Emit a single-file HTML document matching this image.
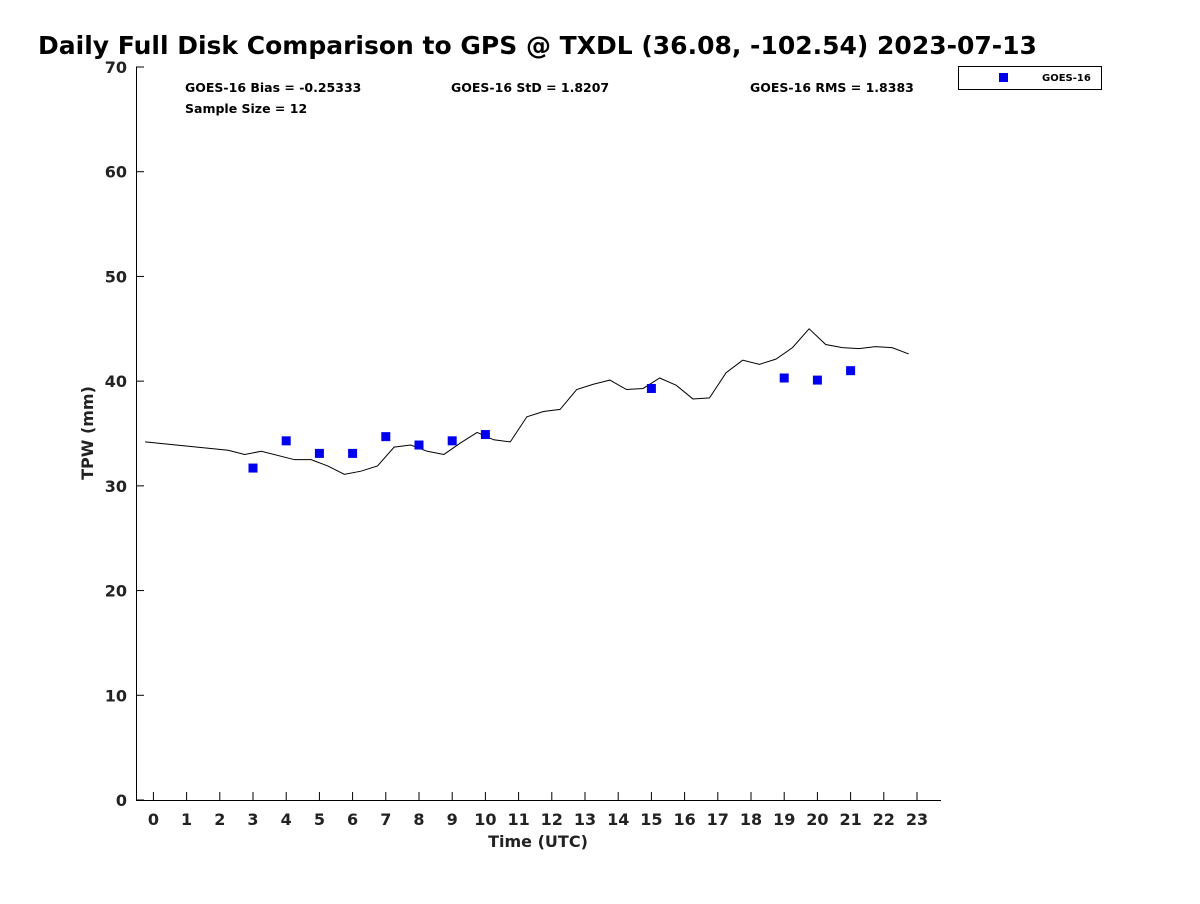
<!DOCTYPE html>
<html><head><meta charset="utf-8"><style>
body{margin:0;background:#fff;font-family:"DejaVu Sans","Liberation Sans",sans-serif;}
svg text{font-family:"DejaVu Sans","Liberation Sans",sans-serif;font-weight:bold;fill:#222;}
</style></head><body>
<svg id="chart" width="1200" height="900" xmlns="http://www.w3.org/2000/svg">
<text x="38" y="54" font-size="25" style="fill:#000">Daily Full Disk Comparison to GPS @ TXDL (36.08, -102.54) 2023-07-13</text>
<text x="185" y="92" font-size="12.5" style="fill:#000">GOES-16 Bias = -0.25333</text>
<text x="451" y="92" font-size="12.5" style="fill:#000">GOES-16 StD = 1.8207</text>
<text x="750" y="92" font-size="12.5" style="fill:#000">GOES-16 RMS = 1.8383</text>
<text x="185" y="113" font-size="12.5" style="fill:#000">Sample Size = 12</text>
<g>
<rect x="958.5" y="66.5" width="143" height="23" fill="#fff" stroke="#000"/>
<rect x="999" y="73" width="9" height="9" fill="#0000ee"/>
<text x="1042" y="81" font-size="10" style="fill:#000">GOES-16</text>
</g>
<g id="axes"></g>
<g id="marks"></g>
<text transform="translate(93,433) rotate(-90)" text-anchor="middle" font-size="16">TPW (mm)</text>
<text x="538" y="847" text-anchor="middle" font-size="16">Time (UTC)</text>
</svg>
<script>
const gpsTimes=[-0.25,2.25,2.75,3.25,4.25,4.75,5.25,5.75,6.25,6.75,7.25,7.75,8.25,8.75,9.25,9.75,10.25,10.75,11.25,11.75,12.25,12.75,13.25,13.75,14.25,14.75,15.25,15.75,16.25,16.75,17.25,17.75,18.25,18.75,19.25,19.75,20.25,20.75,21.25,21.75,22.25,22.75];
const gpsTpw=[34.2,33.4,33.0,33.3,32.5,32.5,31.9,31.1,31.4,31.9,33.7,33.9,33.3,33.0,34.1,35.1,34.4,34.2,36.6,37.1,37.3,39.2,39.7,40.1,39.2,39.3,40.3,39.6,38.3,38.4,40.8,42.0,41.6,42.1,43.2,45.0,43.5,43.2,43.1,43.3,43.2,42.6];
const goesHours=[3,4,5,6,7,8,9,10,15,19,20,21];
const goesTpw=[31.7,34.3,33.1,33.1,34.7,33.9,34.3,34.9,39.3,40.3,40.1,41.0];
const xTicks=[0,1,2,3,4,5,6,7,8,9,10,11,12,13,14,15,16,17,18,19,20,21,22,23];
const yTicks=[0,10,20,30,40,50,60,70];
const NS="http://www.w3.org/2000/svg";
const X=h=>153.4+33.2*h, Y=v=>800-v*(733/70);
const axes=document.getElementById('axes'), marks=document.getElementById('marks');
function mk(tag,attrs,parent){const e=document.createElementNS(NS,tag);for(const k in attrs)e.setAttribute(k,attrs[k]);parent.appendChild(e);return e;}
let xl=mk('line',{x1:136,y1:800.5,x2:941,y2:800.5,stroke:'#000'},axes);


let yl=mk('line',{x1:136.5,y1:67,x2:136.5,y2:800,stroke:'#000'},axes);


xTicks.forEach(t=>{
  mk('line',{x1:X(t),y1:800,x2:X(t),y2:792,stroke:'#000'},axes);
  const tx=mk('text',{x:X(t),y:825,'text-anchor':'middle','font-size':16},axes);
  tx.textContent=t;
  
  
});
yTicks.forEach(t=>{
  mk('line',{x1:136,y1:Y(t),x2:144,y2:Y(t),stroke:'#000'},axes);
  const tx=mk('text',{x:127,y:Y(t)+6,'text-anchor':'end','font-size':16},axes);
  tx.textContent=t;
  
  
});
const pl=mk('polyline',{points:gpsTimes.map((t,i)=>X(t)+','+Y(gpsTpw[i])).join(' '),fill:'none',stroke:'#000','stroke-width':1},marks);


goesHours.forEach((h,i)=>{
  const r=mk('rect',{x:X(h)-4.5,y:Y(goesTpw[i])-4.5,width:9,height:9,fill:'#0000ee'},marks);
  
  
});
</script>
</body></html>
